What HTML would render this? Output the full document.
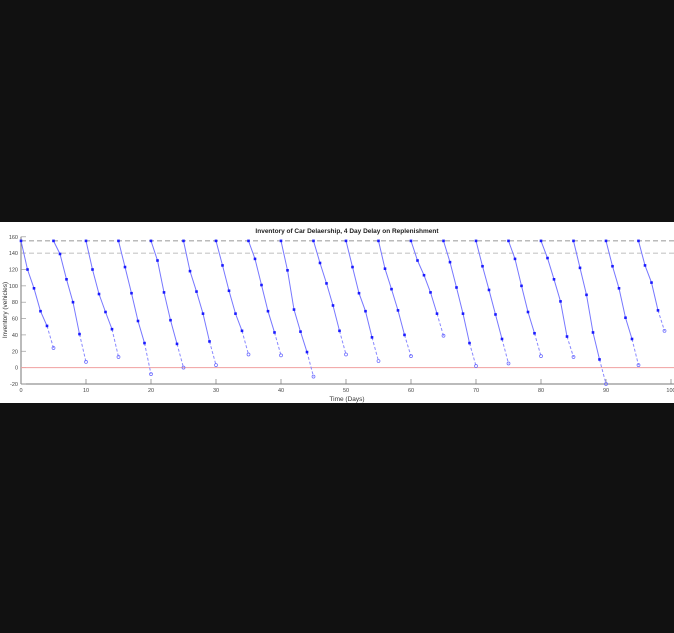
<!DOCTYPE html>
<html><head><meta charset="utf-8"><style>
html,body{margin:0;padding:0;background:#111111;}
svg{display:block;font-family:"Liberation Sans",sans-serif;}
</style></head><body>
<svg id="chart" width="674" height="633" viewBox="0 0 674 633" xmlns="http://www.w3.org/2000/svg">
<rect x="0" y="0" width="674" height="633" fill="#111111"/>
<rect x="0" y="222" width="674" height="181" fill="#ffffff"/>
<text x="347" y="233" font-size="6.5" font-weight="bold" text-anchor="middle" fill="#222">Inventory of Car Delaership, 4 Day Delay on Replenishment</text>
<text x="347" y="401" font-size="6.5" text-anchor="middle" fill="#333">Time (Days)</text>
<text transform="translate(7,310) rotate(-90)" font-size="6.5" text-anchor="middle" fill="#333">Inventory (vehicles)</text>
<g id="g"></g>
</svg>
<script>
const cycleStarts = [0,5,10,15,20,25,30,35,40,45,50,55,60,65,70,75,80,85,90,95];
const cycleValues = [
 [155,120,97,69,51],[155,139,108,80,41],[155,120,90,68,47],[155,123,91,57,30],
 [155,131,92,58,29],[155,118,93,66,32],[155,125,94,66,45],[155,133,101,69,43],
 [155,119,71,44,19],[155,128,103,76,45],[155,123,91,69,37],[155,121,96,70,40],
 [155,131,113,92,66],[155,129,98,66,30],[155,124,95,65,35],[155,133,100,68,42],
 [155,134,108,81,38],[155,122,89,43,10],[155,124,97,61,35],[155,125,104,70]
];
const endValues = [24,7,13,-8,0,3,16,15,-11,16,8,14,39,2,5,14,13,-20,3,45];
const xTicks = [0,10,20,30,40,50,60,70,80,90,100];
const yTicks = [-20,0,20,40,60,80,100,120,140,160];
const maxLevel = 155, reorderLevel = 140;

const NS = "http://www.w3.org/2000/svg";
const g = document.getElementById('g');
const X = d => 21 + d * 6.5;
const Y = v => 367.6 - v * 0.8175;
function mk(tag, attrs){const e=document.createElementNS(NS,tag);for(const k in attrs)e.setAttribute(k,attrs[k]);g.appendChild(e);return e;}

// axes
let ax = mk('line',{x1:21,y1:Y(-20),x2:674,y2:Y(-20),stroke:'#777','stroke-width':1});


let ay = mk('line',{x1:21,y1:Y(160),x2:21,y2:Y(-20),stroke:'#777','stroke-width':1});


xTicks.forEach(t=>{
  const l=mk('line',{x1:X(t),y1:Y(-20),x2:X(t),y2:Y(-20)-5,stroke:'#777','stroke-width':0.7});
  
  
  const tx=mk('text',{x:X(t),y:Y(-20)+8,'font-size':5.5,'text-anchor':'middle',fill:'#444'});
  tx.textContent=t;
  
  
});
yTicks.forEach(t=>{
  const l=mk('line',{x1:21,y1:Y(t),x2:26,y2:Y(t),stroke:'#999','stroke-width':0.7});
  
  
  const tx=mk('text',{x:18,y:Y(t)+2,'font-size':5.5,'text-anchor':'end',fill:'#444'});
  tx.textContent=t;
  
  
});
// reference lines
let zl = mk('line',{x1:21,y1:Y(0),x2:674,y2:Y(0),stroke:'#f0a0a0','stroke-width':1});


let ml = mk('line',{x1:21,y1:Y(maxLevel),x2:674,y2:Y(maxLevel),stroke:'#777','stroke-width':0.8,'stroke-dasharray':'5,3'});


let rl = mk('line',{x1:21,y1:Y(reorderLevel),x2:674,y2:Y(reorderLevel),stroke:'#aaa','stroke-width':0.8,'stroke-dasharray':'5,3'});



cycleStarts.forEach((s,i)=>{
  const vals=cycleValues[i];
  const pts=vals.map((v,j)=>X(s+j)+','+Y(v)).join(' ');
  const pl=mk('polyline',{points:pts,fill:'none',stroke:'#7777ff','stroke-width':1});
  
  
  const last=vals.length-1, ed=s+vals.length;
  const dl=mk('line',{x1:X(s+last),y1:Y(vals[last]),x2:X(ed),y2:Y(endValues[i]),stroke:'#8888ff','stroke-width':1,'stroke-dasharray':'3,2'});
  
  
  vals.forEach((v,j)=>{
    const c=mk('rect',{x:X(s+j)-1.3,y:Y(v)-1.3,width:2.6,height:2.6,fill:'#1a1aff'});
    
    
  });
  const h=mk('circle',{cx:X(ed),cy:Y(endValues[i]),r:1.5,fill:'none',stroke:'#6666ff','stroke-width':0.7});
  
  
});
</script>
</body></html>
